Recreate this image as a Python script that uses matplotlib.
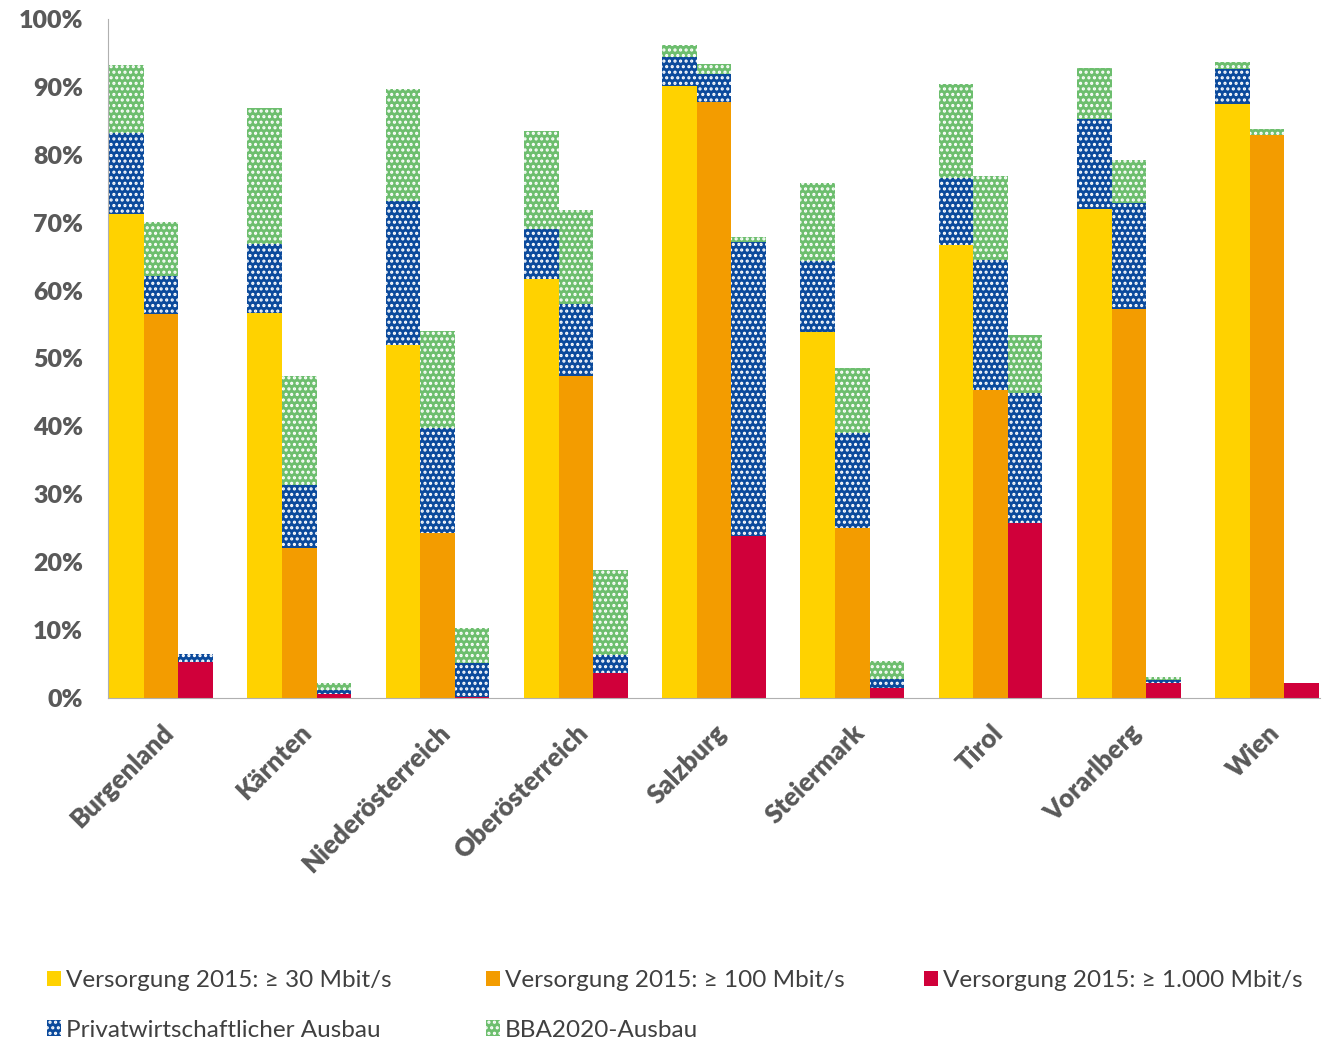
import numpy as np
import matplotlib
matplotlib.use("Agg")
import matplotlib.pyplot as plt
from matplotlib.patches import Patch

plt.rcParams['font.family'] = ['Lato', 'DejaVu Sans']
plt.rcParams['hatch.linewidth'] = 1.5

laender = ["Burgenland", "Kärnten", "Niederösterreich", "Oberösterreich", "Salzburg",
           "Steiermark", "Tirol", "Vorarlberg", "Wien"]

# Versorgung 2015 (Basis) je Bandbreite
basis_30 = [71.3, 56.7, 52.0, 61.7, 90.1, 53.9, 66.7, 72.0, 87.5]
basis_100 = [56.6, 22.1, 24.3, 47.4, 87.8, 25.0, 45.4, 57.3, 82.9]
basis_1000 = [5.3, 0.6, 0.2, 3.7, 23.9, 1.5, 25.8, 2.2, 2.2]

# Privatwirtschaftlicher Ausbau (Zuwachs)
privat_30 = [11.9, 10.2, 21.2, 7.4, 4.3, 10.5, 9.9, 13.2, 5.1]
privat_100 = [5.6, 9.3, 15.5, 10.6, 4.1, 14.0, 19.1, 15.6, 0.0]
privat_1000 = [1.2, 0.6, 4.9, 2.6, 43.3, 1.3, 19.1, 0.4, 0.0]

# BBA2020-Ausbau (Zuwachs)
bba_30 = [10.0, 20.0, 16.5, 14.4, 1.8, 11.4, 13.8, 7.6, 1.1]
bba_100 = [7.9, 16.0, 14.2, 13.9, 1.5, 9.6, 12.4, 6.3, 0.9]
bba_1000 = [0.0, 1.0, 5.2, 12.6, 0.7, 2.7, 8.6, 0.5, 0.0]

y_ticks = [0, 10, 20, 30, 40, 50, 60, 70, 80, 90, 100]

gelb = "#FFD200"
orange = "#F39C00"
rot = "#D0003A"
blau = "#0B4A9C"
gruen = "#6DBE6E"

fig = plt.figure(figsize=(13.29, 10.45), dpi=100)
ax = fig.add_axes([0.0813, 0.332, 0.9117, 0.65])

x = np.arange(len(laender))
w = 0.25

gruppen = [
    (basis_30, privat_30, bba_30, gelb, -w),
    (basis_100, privat_100, bba_100, orange, 0),
    (basis_1000, privat_1000, bba_1000, rot, w),
]

for basis, privat, bba, farbe, off in gruppen:
    basis = np.array(basis)
    privat = np.array(privat)
    bba = np.array(bba)
    ax.bar(x + off, basis, w, color=farbe, linewidth=0)
    ax.bar(x + off, privat, w, bottom=basis, color=blau, edgecolor="white",
           linewidth=0, hatch="...")
    ax.bar(x + off, bba, w, bottom=basis + privat, color=gruen, edgecolor="white",
           linewidth=0, hatch="...")

ax.set_xlim(-0.383, 8.38)
ax.set_ylim(0, 100)
ax.set_yticks(y_ticks)
ax.set_yticklabels([f"{v}%" for v in y_ticks], fontsize=18, fontweight="heavy", color="#595959")
ax.tick_params(axis="y", length=0, pad=18)
ax.set_xticks(x)
ax.set_xticklabels(laender, rotation=45, ha="right", rotation_mode="anchor",
                   fontsize=18.5, fontweight="heavy", color="#595959")
ax.tick_params(axis="x", length=0, pad=16)

for s in ["top", "right"]:
    ax.spines[s].set_visible(False)
ax.spines["left"].set_color("#B0B0B0")
ax.spines["bottom"].set_color("#B0B0B0")

# ---- Legende (drei Spalten, einzeln platziert) ----
h_30 = Patch(facecolor=gelb, linewidth=0, label="Versorgung 2015: ≥ 30 Mbit/s")
h_100 = Patch(facecolor=orange, linewidth=0, label="Versorgung 2015: ≥ 100 Mbit/s")
h_1000 = Patch(facecolor=rot, linewidth=0, label="Versorgung 2015: ≥ 1.000 Mbit/s")
h_priv = Patch(facecolor=blau, edgecolor="white", linewidth=0, hatch="...",
               label="Privatwirtschaftlicher Ausbau")
h_bba = Patch(facecolor=gruen, edgecolor="white", linewidth=0, hatch="...",
              label="BBA2020-Ausbau")

spalten = [([h_30, h_priv], 0.0188), ([h_100, h_bba], 0.349), ([h_1000], 0.6787)]
for handles, xpos in spalten:
    leg = fig.legend(handles=handles, loc="upper left", bbox_to_anchor=(xpos, 0.0928),
                     frameon=False, fontsize=17.5, handlelength=0.6, handleheight=0.6,
                     handletextpad=0.2, labelspacing=1.18)
    for t in leg.get_texts():
        t.set_color("#404040")

fig.savefig("out.png", dpi=100)
